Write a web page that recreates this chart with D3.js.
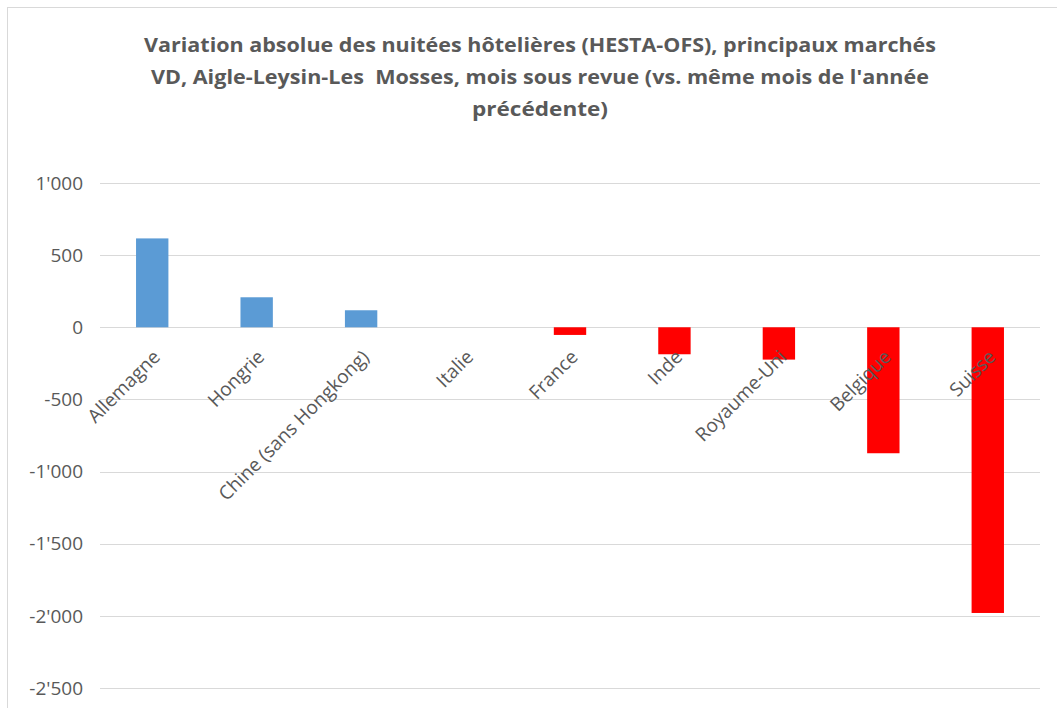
<!DOCTYPE html>
<head>
<meta charset="utf-8">
<script src="https://d3js.org/d3.v7.min.js"></script>
<style>
body, html {
  margin: 0;
  padding: 0;
  background: #fff;
}
.grid line {
  stroke: #d9d9d9;
  stroke-width: 1px;
}
.title {
  font-family: "Open Sans", sans-serif;
  font-weight: bold;
  font-size: 20px;
  fill: #595959;
  white-space: pre;
}
.ylab, .xlab {
  font-family: "Open Sans", sans-serif;
  font-size: 19px;
  fill: #595959;
}
</style>
</head>
<body>
<div id="chart"></div>
<script>
// data
var categories = ["Allemagne", "Hongrie", "Chine (sans Hongkong)", "Italie", "France", "Inde", "Royaume-Uni", "Belgique", "Suisse"];
var values = [616, 208, 118, 0, -53, -187, -224, -873, -1980];
var yTicks = [1000, 500, 0, -500, -1000, -1500, -2000, -2500];
var titleLines = [
  "Variation absolue des nuitées hôtelières (HESTA-OFS), principaux marchés",
  "VD, Aigle-Leysin-Les  Mosses, mois sous revue (vs. même mois de l'année",
  "précédente)"
];
var titleWidths = [792, 778, 136];

var width = 1057, height = 708;
var margin = {top: 183, right: 17, bottom: 20, left: 100};

var svg = d3.select("#chart").append("svg")
    .attr("width", width)
    .attr("height", height);

// chart frame
svg.append("rect")
    .attr("x", 7.5).attr("y", 7.5)
    .attr("width", 1100).attr("height", 800)
    .attr("fill", "#fff")
    .attr("stroke", "#d9d9d9");

var x = d3.scaleBand()
    .domain(categories)
    .range([margin.left, width - margin.right])
    .paddingInner(0.69)
    .paddingOuter(0.345);

var y = d3.scaleLinear()
    .domain([-2500, 1000])
    .range([688, 183]);

// title
svg.selectAll(".title")
    .data(titleLines)
  .enter().append("text")
    .attr("class", "title")
    .attr("xml:space", "preserve")
    .attr("x", 540)
    .attr("y", function(d, i) { return 52 + i * 32; })
    .attr("text-anchor", "middle")
    .attr("textLength", function(d, i) { return titleWidths[i]; })
    .attr("lengthAdjust", "spacingAndGlyphs")
    .text(function(d) { return d; });

// gridlines
svg.append("g")
    .attr("class", "grid")
  .selectAll("line")
    .data(yTicks)
  .enter().append("line")
    .attr("x1", margin.left)
    .attr("x2", width - margin.right)
    .attr("y1", function(d) { return Math.round(y(d)) + 0.5; })
    .attr("y2", function(d) { return Math.round(y(d)) + 0.5; });

var fmt = function(d) { return d3.format(",")(d).replace(/,/g, "'").replace("−", "-"); };

// y labels
svg.selectAll(".ylab")
    .data(yTicks)
  .enter().append("text")
    .attr("class", "ylab")
    .attr("x", 83)
    .attr("y", function(d) { return y(d); })
    .attr("dy", "0.35em")
    .attr("text-anchor", "end")
    .text(fmt);

// bars
svg.selectAll(".bar")
    .data(values)
  .enter().append("rect")
    .attr("class", "bar")
    .attr("x", function(d, i) { return x(categories[i]); })
    .attr("width", x.bandwidth())
    .attr("y", function(d) { return y(Math.max(0, d)); })
    .attr("height", function(d) { return Math.abs(y(d) - y(0)); })
    .attr("fill", function(d) { return d < 0 ? "#ff0000" : "#5b9bd5"; });

// category labels, rotated
svg.selectAll(".xlab")
    .data(categories)
  .enter().append("text")
    .attr("class", "xlab")
    .attr("transform", function(d) {
      var cx = x(d) + x.bandwidth() / 2 + 9;
      return "translate(" + cx + "," + (y(0) + 31) + ") rotate(-45)";
    })
    .attr("text-anchor", "end")
    .text(function(d) { return d; });
</script>
</body>
